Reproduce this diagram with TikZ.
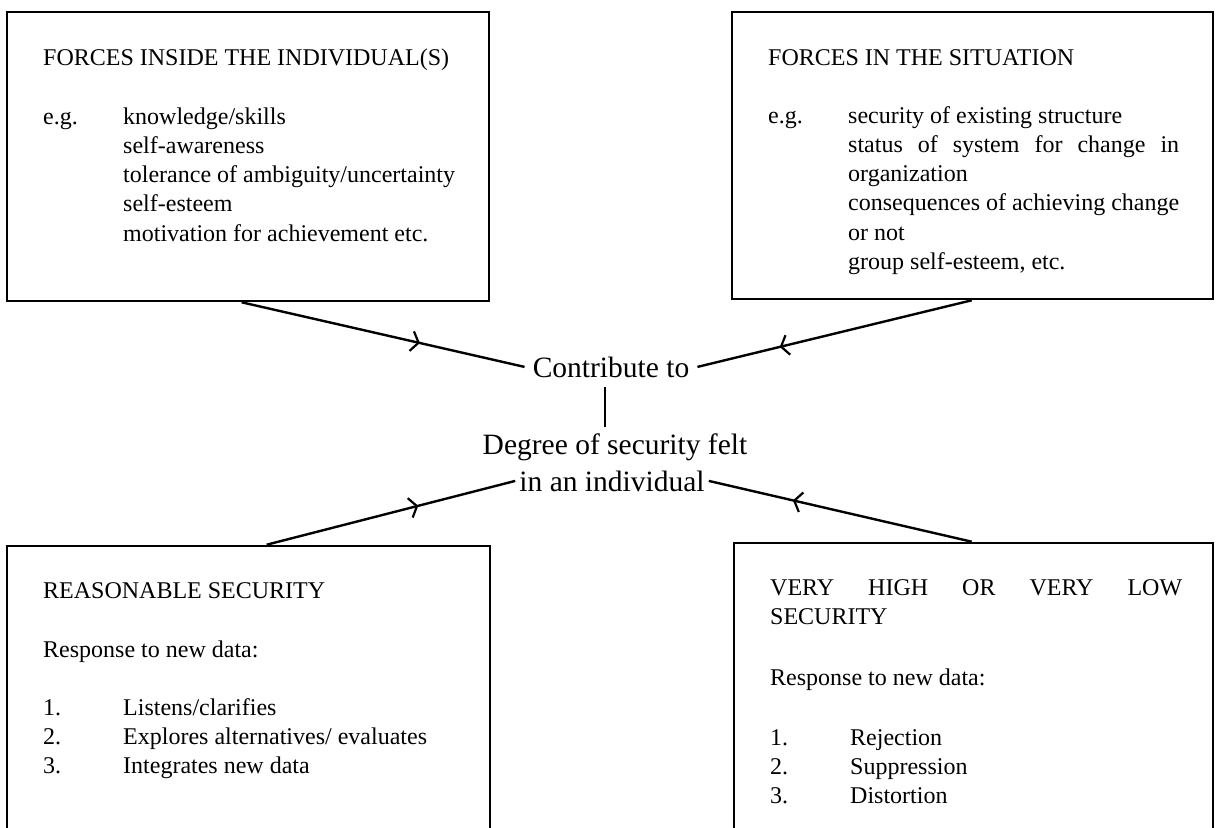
\documentclass[tikz,border=0pt]{standalone}
\usepackage{fontspec}
\setmainfont{Liberation Serif}
\usetikzlibrary{arrows.meta,decorations.markings}
\newcommand\bxfont{\fontsize{24}{29.3}\selectfont}
\newcommand\ctrfont{\fontsize{29.5}{36}\selectfont}
\newcommand\lines[1]{\begin{tabular}[t]{@{}l@{}}#1\end{tabular}}
\tikzset{
  frame/.style={draw, line width=2.6pt, inner sep=0pt},
  txt/.style={anchor=base west, inner sep=0pt, font=\bxfont},
  ctr/.style={anchor=base, inner sep=0pt, font=\ctrfont},
  flow/.style={line width=2.4pt,
    decoration={markings, mark=at position #1 with
      {\arrow{Straight Barb[length=7pt,width=20pt,line width=2.2pt]}}},
    postaction=decorate},
  link/.style={line width=2.4pt},
}
\begin{document}
\begin{tikzpicture}[x=1pt,y=-1pt]
\fill[white] (0,0) rectangle (1217,827);
\clip (0,0) rectangle (1217,827);

% the four boxes (the lower two run off the bottom of the page)
\node[frame, minimum width=482pt, minimum height=289pt] (inside) at (248,156.5) {};
\node[frame, minimum width=481pt, minimum height=287pt] (situation) at (972.5,155.5) {};
\node[frame, minimum width=483pt, minimum height=330pt] (reasonable) at (248.5,711) {};
\node[frame, minimum width=479pt, minimum height=330pt] (extreme) at (973.5,708) {};

% forces inside the individual
\node[txt] (t1) at (43,65) {FORCES INSIDE THE INDIVIDUAL(S)};
\node[txt] (eg1) at (43,124) {e.g.};
\node[txt] (l1) at (123,124) {\lines{knowledge/skills\\ self-awareness\\ tolerance of ambiguity/uncertainty\\ self-esteem\\ motivation for achievement etc.}};

% forces in the situation
\node[txt] (t2) at (768,65) {FORCES IN THE SITUATION};
\node[txt] (eg2) at (768,123) {e.g.};
\node[txt] (l2) at (848,123) {\lines{security of existing structure\\ \makebox[331pt][s]{status of system for change in}\\ organization\\ \makebox[331pt][s]{consequences of achieving change}\\ or not\\ group self-esteem, etc.}};

% reasonable security
\node[txt] (t3) at (43,598) {REASONABLE SECURITY};
\node[txt] (r3) at (43,657) {Response to new data:};
\node[txt] (n3) at (43,715) {\lines{1.\\ 2.\\ 3.}};
\node[txt] (l3) at (123,715) {\lines{Listens/clarifies\\ Explores alternatives/ evaluates\\ Integrates new data}};

% very high or very low security
\node[txt] (t4) at (770,595) {\lines{\makebox[412pt][s]{VERY HIGH OR VERY LOW}\\ SECURITY}};
\node[txt] (r4) at (770,685) {Response to new data:};
\node[txt] (n4) at (770,745) {\lines{1.\\ 2.\\ 3.}};
\node[txt] (l4) at (850,745) {\lines{Rejection\\ Suppression\\ Distortion}};

% centre
\node[ctr] (contrib) at (611,377) {Contribute to};
\node[ctr] (degree) at (615,454) {Degree of security felt};
\node[ctr] (indiv) at (612,491) {in an individual};

% connectors
\draw[link, shorten <=10pt, shorten >=6pt]
  ([xshift=-6pt]contrib.south) -- ([xshift=-6pt]contrib.south |- degree.north);
\draw[flow=0.63] ([xshift=236pt]inside.south west) -- ([xshift=-8pt]contrib.west);
\draw[flow=0.70] ([xshift=241pt]situation.south west) -- ([xshift=8pt]contrib.east);
\draw[flow=0.61] ([xshift=261pt]reasonable.north west) -- ([xshift=-4pt]indiv.west);
\draw[flow=0.68] ([xshift=239pt]extreme.north west) -- ([xshift=4pt]indiv.east);
\end{tikzpicture}
\end{document}
